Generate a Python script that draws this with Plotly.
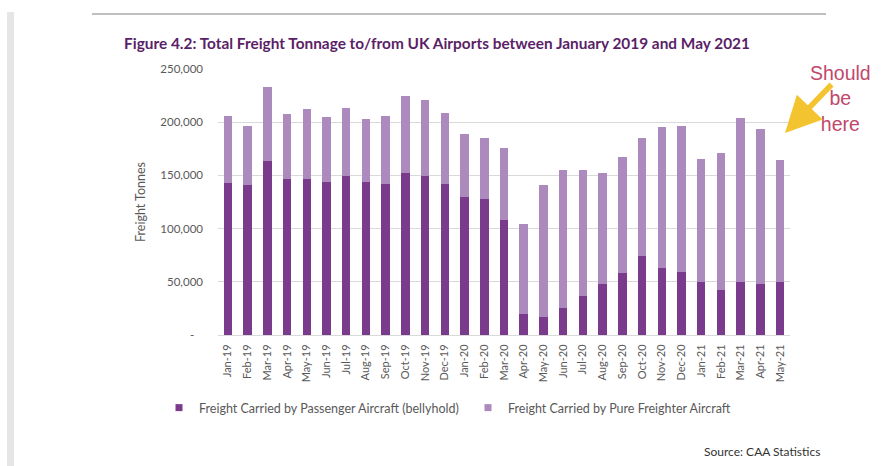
import plotly.graph_objects as go

# Monthly freight tonnage at UK airports
months = ["Jan-19", "Feb-19", "Mar-19", "Apr-19", "May-19", "Jun-19", "Jul-19", "Aug-19",
          "Sep-19", "Oct-19", "Nov-19", "Dec-19", "Jan-20", "Feb-20", "Mar-20", "Apr-20",
          "May-20", "Jun-20", "Jul-20", "Aug-20", "Sep-20", "Oct-20", "Nov-20", "Dec-20",
          "Jan-21", "Feb-21", "Mar-21", "Apr-21", "May-21"]

# Total tonnage per month
total_tonnes = [205800, 196700, 233400, 207400, 212100, 205200, 213300, 202700,
                206100, 224600, 220900, 208600, 188900, 184800, 176000, 104300,
                140700, 155400, 155400, 152300, 167600, 185200, 195200, 196700,
                165400, 171400, 204200, 193300, 164500]

# Freight carried in the bellyhold of passenger aircraft
bellyhold = [142600, 140700, 163800, 146300, 146300, 144100, 149400, 143500,
             141600, 151900, 149700, 141900, 129400, 128100, 108100, 20000,
             17200, 25700, 36700, 48200, 58000, 74200, 62700, 59200,
             49500, 42300, 49500, 47900, 49500]

# Freight carried by pure freighter aircraft (remainder of the total)
freighter = [t - b for t, b in zip(total_tonnes, bellyhold)]

series_names = ["Freight Carried by Passenger Aircraft (bellyhold)",
                "Freight Carried by Pure Freighter Aircraft"]

y_ticks = [0, 50000, 100000, 150000, 200000, 250000]
y_tick_text = ["-   ", "50,000", "100,000", "150,000", "200,000", "250,000"]

W, H = 895, 466
L, R, T, B = 218, 790, 69, 335


def px(x):
    return (x - L) / (R - L)


def py(y):
    return (B - y) / (B - T)


DARK = "#7b3b8c"
LIGHT = "#ad8abd"
GREY_TEXT = "#595959"

fig = go.Figure()
fig.add_trace(go.Bar(x=months, y=bellyhold, name=series_names[0], showlegend=False,
                     marker=dict(color=DARK, line=dict(width=0))))
fig.add_trace(go.Bar(x=months, y=freighter, name=series_names[1], showlegend=False,
                     marker=dict(color=LIGHT, line=dict(width=0))))

# Legend entries with small square keys
for name, col in zip(series_names, [DARK, LIGHT]):
    fig.add_trace(go.Scatter(x=[None], y=[None], mode="markers", name=name,
                             marker=dict(symbol="square", size=7, color=col)))

fig.update_layout(
    width=W, height=H,
    margin=dict(l=L, r=W - R, t=T, b=H - B, pad=0),
    barmode="stack",
    bargap=0.57,
    plot_bgcolor="white",
    paper_bgcolor="white",
    font=dict(family="Lato", color=GREY_TEXT, size=11),
    title=dict(
        text="<b>Figure 4.2: Total Freight Tonnage to/from UK Airports between January 2019 and May 2021</b>",
        font=dict(family="Lato", size=15.4, color="#5b1f68"),
        xref="container", yref="container",
        x=437 / W, y=1 - 44 / H, xanchor="center", yanchor="middle",
    ),
    xaxis=dict(
        type="category",
        tickangle=-90,
        showgrid=False,
        showline=True, linecolor="#d9d9d9", linewidth=1,
        ticks="", tickfont=dict(size=11, color=GREY_TEXT),
        ticklabelstandoff=4,
    ),
    yaxis=dict(
        range=[0, 250000],
        tickvals=y_ticks, ticktext=y_tick_text,
        showgrid=True, gridcolor="#d9d9d9", gridwidth=1,
        zeroline=False, showline=False,
        ticks="", tickfont=dict(size=11.5, color=GREY_TEXT),
        ticklabelstandoff=14,
        title=dict(text="Freight Tonnes", font=dict(size=12.5, color=GREY_TEXT), standoff=11),
    ),
    legend=dict(
        orientation="h",
        x=px(159), y=py(408), xanchor="left", yanchor="middle",
        xref="paper", yref="paper",
        entrywidth=264, entrywidthmode="pixels",
        font=dict(size=12.5, color=GREY_TEXT),
        itemsizing="trace",
        traceorder="normal",
        bgcolor="rgba(0,0,0,0)",
    ),
    showlegend=True,
)

# Page decorations: left edge band and top rule
fig.add_shape(type="rect", xref="paper", yref="paper",
              x0=px(7), x1=px(14), y0=py(466), y1=py(12),
              fillcolor="#e6e6e6", line=dict(width=0), layer="below")
fig.add_shape(type="line", xref="paper", yref="paper",
              x0=px(92), x1=px(826), y0=py(14), y1=py(14),
              line=dict(color="#bfbfbf", width=2))

# Source note
fig.add_annotation(text="Source: CAA Statistics", xref="paper", yref="paper",
                   x=px(822), y=py(451), xanchor="right", yanchor="middle",
                   showarrow=False, font=dict(family="Lato", size=12, color="#333333"))

# Callout text and arrow
fig.add_annotation(text="Should<br>be<br>here", xref="paper", yref="paper",
                   x=px(840), y=py(98), xanchor="center", yanchor="middle",
                   showarrow=False, align="center",
                   font=dict(family="Liberation Sans", size=19.5, color="#c2476a"))
fig.add_annotation(text="", xref="paper", yref="paper",
                   x=px(785), y=py(133), ax=48, ay=-50,
                   showarrow=True, arrowhead=2, arrowsize=1.3, arrowwidth=5.5,
                   arrowcolor="#f4c430")

fig.write_html("out.html")
